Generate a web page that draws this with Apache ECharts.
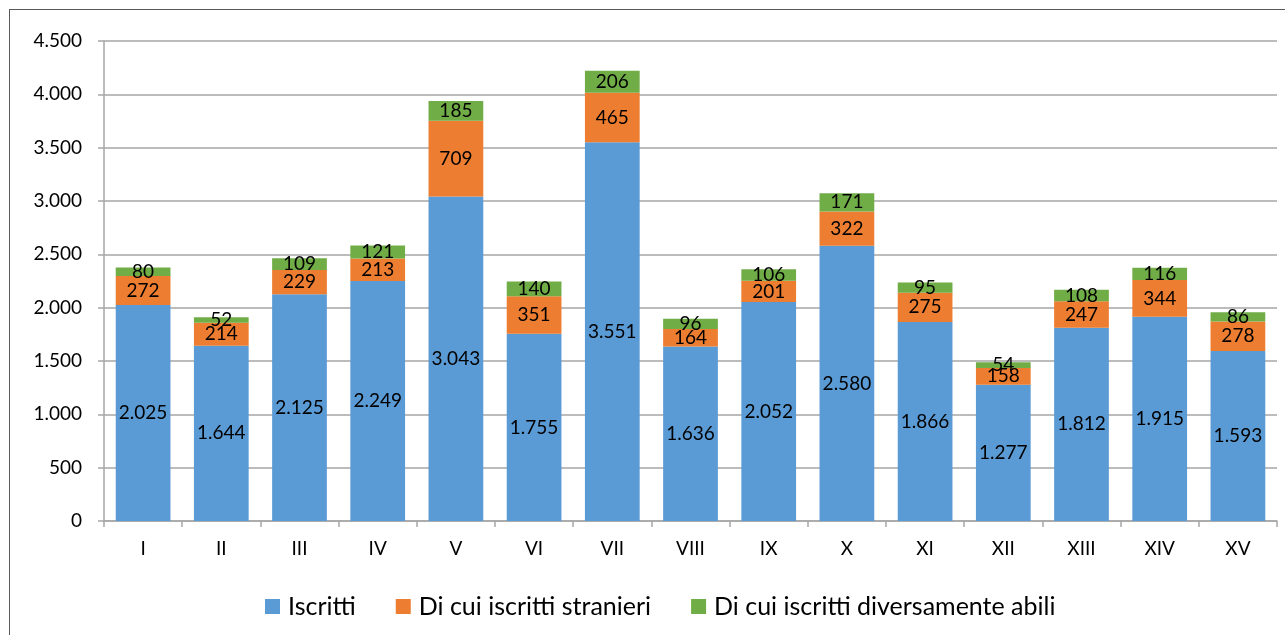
<!DOCTYPE html>
<html>
<head>
<meta charset="utf-8">
<script src="https://cdn.jsdelivr.net/npm/echarts@6/dist/echarts.min.js"></script>
<style>
  html, body { margin: 0; padding: 0; background: #fff; }
  #chart { width: 1285px; height: 635px; }
</style>
</head>
<body>
<div id="chart"></div>
<script>
// dati
var categories = ['I', 'II', 'III', 'IV', 'V', 'VI', 'VII', 'VIII', 'IX', 'X', 'XI', 'XII', 'XIII', 'XIV', 'XV'];
var iscritti = [2025, 1644, 2125, 2249, 3043, 1755, 3551, 1636, 2052, 2580, 1866, 1277, 1812, 1915, 1593];
var stranieri = [272, 214, 229, 213, 709, 351, 465, 164, 201, 322, 275, 158, 247, 344, 278];
var diversamenteAbili = [80, 52, 109, 121, 185, 140, 206, 96, 106, 171, 95, 54, 108, 116, 86];

var FONT = 'Lato';

// separatore delle migliaia con il punto
function fmt(v) {
  return String(v).replace(/\B(?=(\d{3})+(?!\d))/g, '.');
}

var labelStyle = {
  show: true,
  position: 'inside',
  color: '#000',
  fontFamily: FONT,
  fontSize: 19,
  formatter: function (p) { return fmt(p.value); }
};

var chart = echarts.init(document.getElementById('chart'));
chart.setOption({
  animation: false,
  textStyle: { fontFamily: FONT },
  grid: { left: 104, right: 8, top: 41, bottom: 114 },
  graphic: [
    { type: 'line', shape: { x1: 9, y1: 9.5, x2: 1285, y2: 9.5 }, style: { stroke: '#595959', lineWidth: 1 } },
    { type: 'line', shape: { x1: 9.5, y1: 9, x2: 9.5, y2: 635 }, style: { stroke: '#595959', lineWidth: 1 } }
  ],
  legend: {
    top: 589,
    left: 260,
    itemWidth: 15,
    itemHeight: 15,
    itemGap: 40,
    icon: 'rect',
    textStyle: { fontFamily: FONT, fontSize: 25, color: '#000', padding: [0, 0, 0, 3] },
    data: ['Iscritti', 'Di cui iscritti stranieri', 'Di cui iscritti diversamente abili']
  },
  xAxis: {
    type: 'category',
    data: categories,
    axisLine: { lineStyle: { color: '#a6a6a6', width: 1.5 } },
    axisTick: { show: true, length: 6, lineStyle: { color: '#a6a6a6', width: 1.5 } },
    axisLabel: { color: '#000', fontFamily: FONT, fontSize: 19, margin: 18 }
  },
  yAxis: {
    type: 'value',
    min: 0,
    max: 4500,
    interval: 500,
    axisLine: { show: true, lineStyle: { color: '#a6a6a6', width: 1.5 } },
    axisTick: { show: true, length: 6, lineStyle: { color: '#a6a6a6', width: 1.5 } },
    splitLine: { lineStyle: { color: '#a6a6a6', width: 1.5 } },
    axisLabel: { color: '#000', fontFamily: FONT, fontSize: 19, margin: 22, formatter: fmt }
  },
  series: [
    {
      name: 'Iscritti',
      type: 'bar',
      stack: 'tot',
      barWidth: '70%',
      data: iscritti,
      itemStyle: { color: '#5b9bd5' },
      label: labelStyle
    },
    {
      name: 'Di cui iscritti stranieri',
      type: 'bar',
      stack: 'tot',
      data: stranieri,
      itemStyle: { color: '#ed7d31' },
      label: labelStyle
    },
    {
      name: 'Di cui iscritti diversamente abili',
      type: 'bar',
      stack: 'tot',
      data: diversamenteAbili,
      itemStyle: { color: '#70ad47' },
      label: labelStyle
    }
  ]
});
</script>
</body>
</html>
